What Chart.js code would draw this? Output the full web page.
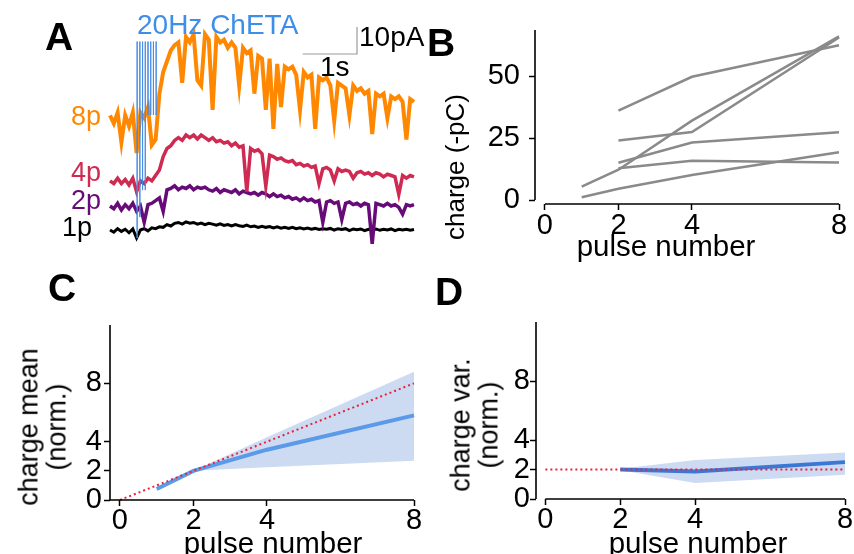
<!DOCTYPE html>
<html>
<head>
<meta charset="utf-8">
<script src="https://cdn.jsdelivr.net/npm/chart.js@4.4.1/dist/chart.umd.min.js"></script>
<style>
  body { margin: 0; background: #fff; }
  #fig { position: relative; width: 854px; height: 554px; overflow: hidden; font-family: 'Liberation Sans', Arial, sans-serif; }
  canvas { position: absolute; }
  .t { position: absolute; white-space: nowrap; color: #000; }
  .letter { font-weight: bold; }
  .rot { transform: translate(-50%, -50%) rotate(-90deg); text-align: center; }
</style>
</head>
<body>
<div id="fig">
  <canvas id="panelA" width="430" height="260" style="left:0;top:0"></canvas>
  <canvas id="panelB" width="424" height="270" style="left:430px;top:0"></canvas>
  <canvas id="panelC" width="430" height="284" style="left:0;top:270px"></canvas>
  <canvas id="panelD" width="424" height="284" style="left:430px;top:270px"></canvas>
</div>
<script>
'use strict';

//Panel A - example currents (pA above baseline), one sample every traceDt seconds
var traceDt = 0.07;
var trace8p = [1, -2, 2, -9, 1, -3, 2, -13, 2, 0,
  4, -10, -8, 9, 17, 21, 25, 27, 28, 13,
  30, 28, 31, 14, 12, 31, 29, 3, 30, 28,
  29, 26, 28, 26, 12, 26, 24, 25, 9, 23,
  22, 3, 22, -4, 20, 4, 19, 18, 19, 16,
  3, 17, 15, 16, -4, 15, 14, 15, 12, -1,
  13, 12, 11, 1, 12, 10, 11, 9, 10, -6,
  9, 8, 9, 0, 8, 7, 8, 6, -8, 7, 6];
var trace4p = [0, -1, 1, -1, 0.5, -1.5, 1, -4, 0, -1,
  1, 0, 2, 4, 9, 12, 13, 15, 16, 15,
  17, 16, 17, 15.5, 17, 16, 15, 16, 14.5, 15,
  14, 14.5, 13, 14, 12.5, 13, -4, 12, 11, 11.5,
  10, -2, 9.5, 9, 8, 8.5, 7.5, 7, 7.5, 6,
  6.5, 5.5, 6, 5, 5.5, -1, 4.5, 5, 4, 0,
  4.5, 3.5, 4, 3.5, 1, 3, 3.5, 2.5, 3, 2,
  3, 2.5, 1.5, 2.5, 2, 1.5, -5, 2, 1, 2, 1.5];
var trace2p = [0, -1, 1, -1.5, 0.5, -1, 1, -2, 0, -6,
  0.5, 1, 2, 3, -2, 6, 6.5, 7.5, 6, 7,
  6.5, 7.5, 6, 7, 6.5, 7, 6, 5.5, 6.5, 5,
  6, 5.5, 5, 6, 4.5, 5.5, 5, 4.5, 5, 4,
  5, 4.5, 3.5, 4.5, 3.5, 4, 3, 3.5, 2.5, 3,
  2, 3, 2, 2.5, 1.5, 2, -6, 1.5, 2, 1,
  1.5, -5, 1, 1.5, 0.5, 1, 0, 1, 0.5, -14,
  1, 0.5, 0, 1, 0, 0.5, -0.5, -3, 0.5, 0, 0.5];
var trace1p = [0, -0.8, 0.5, -0.5, 0.3, -1, 0.4, -3, 0, 0.5,
  -0.3, 0.8, 0.5, 1.2, 1, 2, 1.5, 2.5, 2.8, 2.2,
  3, 2.5, 2.8, 2.2, 2.6, 2, 2.5, 2.2, 1.8, 2.3,
  1.7, 2, 1.5, 2, 1.6, 1.3, 1.8, 1.2, 1.5, 1,
  1.4, 1, 1.3, 0.8, 1.2, 0.7, 1, 0.6, 1, 0.5,
  0.8, 0.4, 0.7, 0.3, 0.6, 0.2, 0.5, 0.3, 0.6, 0,
  0.5, 0.2, 0.5, -0.2, 0.4, 0.1, 0.4, -0.2, 0.3, 0,
  0.4, -0.1, 0.3, 0, 0.4, -0.2, 0.3, 0, 0.3, -0.1, 0.2];
var traceNames = ['8p', '4p', '2p', '1p'];
var traceColors = ['#ff8800', '#cf2a52', '#660b77', '#000000'];
var traceWidths = [4, 3.5, 3.5, 3];
var traceOffsets = [52.6, 29.3, 20, 11.1]; //stacking of the traces, pA
//20Hz light pulses (s) and how far down each blue line reaches (pA)
var stimTimes = [0.5, 0.55, 0.6, 0.65, 0.7, 0.75, 0.8, 0.85];
var stimTop = 80.9;
var stimBottoms = [8.1, 15.9, 25.9, 25.9, 53.7, 53.7, 53.7, 53.7];
var scaleBarTime = [3.55, 4.55];      //1 s
var scaleBarCurrent = [76.3, 86.3];   //10 pA

//Panel B - charge per cell
var pulseNumbers = [1, 2, 4, 8];
var cell1 = [null, 36, 49.7, 62.4];
var cell2 = [null, 24, 27.4, 65.5];
var cell3 = [null, 15, 23.2, 27.3];
var cell4 = [null, 12.8, 15.8, 15.1];
var cell5 = [1.1, 4.5, 10.1, 19.3];
var cell6 = [5.4, 12.2, 32, 66];
var chargeTicks = [0, 25, 50];

//Panel C - normalised mean
var meanNorm = [0.75, 2, 3.45, 5.8];
var bandPulses = [2, 4, 8];
var meanUpper = [2, 4.3, 8.8];
var meanLower = [2, 2.25, 2.7];
var linearPulses = [0, 8];
var linearExpect = [0, 8];

//Panel D - normalised variance
var varNorm = [2, 1.87, 2.5];
var varUpper = [2.05, 2.65, 3.15];
var varLower = [1.95, 1.08, 1.65];
var flatExpect = [2, 2];

var pulseTicks = [0, 2, 4, 8];
var normTicks = [0, 2, 4, 8];

Chart.defaults.font.family = "'Liberation Sans', Arial, sans-serif";
Chart.defaults.font.size = 29;
Chart.defaults.color = '#000';

function points(xs, ys) {
	var out = [];
	xs.forEach(function (x, i) {
		if (ys[i] !== null) out.push({ x: x, y: ys[i] });
	});
	return out;
}

function line(data, color, width, extra) {
	var ds = { data: data, borderColor: color, borderWidth: width, pointRadius: 0, tension: 0, fill: false, clip: false };
	for (var k in extra) ds[k] = extra[k];
	return ds;
}

//axis with fixed ticks, tick marks only (spines are drawn by the plugin below)
function axis(min, max, ticks, pad, size, isX) {
	return {
		type: 'linear', min: min, max: max,
		afterBuildTicks: function (scale) {
			scale.ticks = ticks.map(function (v) { return { value: v }; });
		},
		afterFit: function (scale) {
			if (isX) scale.height = size; else scale.width = size;
		},
		grid: { display: true, drawOnChartArea: false, drawTicks: true, tickLength: 6, tickWidth: 1.5, tickColor: '#000' },
		border: { display: false },
		ticks: { padding: pad, autoSkip: false, maxRotation: 0, font: { size: 29, lineHeight: 1 } }
	};
}

var spinePlugin = {
	id: 'spines',
	afterDraw: function (chart, args, opts) {
		var ctx = chart.ctx, area = chart.chartArea;
		var xs = chart.scales.x, ys = chart.scales.y;
		ctx.save();
		ctx.strokeStyle = '#000';
		ctx.lineWidth = 1.6;
		ctx.beginPath();
		ctx.moveTo(area.left, area.top);
		ctx.lineTo(area.left, ys.getPixelForValue(opts.yFrom));
		ctx.moveTo(xs.getPixelForValue(opts.xFrom), area.bottom);
		ctx.lineTo(area.right, area.bottom);
		ctx.stroke();
		ctx.restore();
	}
};

function baseOptions(padding, scales, spines) {
	return {
		responsive: false, animation: false, devicePixelRatio: 1,
		layout: { padding: padding },
		plugins: { legend: { display: false }, tooltip: { enabled: false }, spines: spines },
		scales: scales
	};
}

//Panel A
var traceSets = [trace8p, trace4p, trace2p, trace1p];
var aData = [];
stimTimes.forEach(function (t, i) {
	aData.push(line([{ x: t, y: stimTop }, { x: t, y: stimBottoms[i] }], 'rgba(70,140,228,0.75)', 1));
});
aData.push(line([{ x: scaleBarTime[0], y: scaleBarCurrent[0] }, { x: scaleBarTime[1], y: scaleBarCurrent[0] },
	{ x: scaleBarTime[1], y: scaleBarCurrent[1] }], '#9a9a9a', 1.2));
traceSets.forEach(function (tr, k) {
	var pts = tr.map(function (v, i) { return { x: i * traceDt, y: v + traceOffsets[k] }; });
	aData.push(line(pts, traceColors[k], traceWidths[k], { borderJoinStyle: 'miter' }));
});
new Chart(document.getElementById('panelA'), {
	type: 'line',
	data: { datasets: aData },
	options: baseOptions({ left: 110, right: 16, top: 0, bottom: 0 }, {
		x: { type: 'linear', display: false, min: 0, max: 5.6 },
		y: { type: 'linear', display: false, min: 0, max: 96.3 }
	}, {})
});

//Panel B
var cells = [cell1, cell2, cell3, cell4, cell5, cell6];
new Chart(document.getElementById('panelB'), {
	type: 'line',
	data: { datasets: cells.map(function (c) { return line(points(pulseNumbers, c), '#8a8a8a', 2.5); }) },
	options: baseOptions({ left: 0, right: 15, top: 30, bottom: 0 }, {
		x: axis(-0.27, 8, pulseTicks, 1, 66, true),
		y: axis(-1.61, 68.55, chargeTicks, 9, 105, false)
	}, { xFrom: 0, yFrom: 0 }),
	plugins: [spinePlugin]
});

//Panel C
new Chart(document.getElementById('panelC'), {
	type: 'line',
	data: { datasets: [
		line(points(linearPulses, linearExpect), '#e8213e', 2, { borderDash: [2, 3] }),
		line(points(pulseNumbers, meanNorm), '#5b9ae8', 4),
		line(points(bandPulses, meanUpper), 'rgba(0,0,0,0)', 0, { fill: '+1', backgroundColor: 'rgba(120,160,222,0.38)' }),
		line(points(bandPulses, meanLower), 'rgba(0,0,0,0)', 0)
	] },
	options: baseOptions({ left: 0, right: 16, top: 55, bottom: 0 }, {
		x: axis(-0.27, 8, pulseTicks, 0, 54, true),
		y: axis(0, 12, normTicks, 2, 110, false)
	}, { xFrom: -0.27, yFrom: 0 }),
	plugins: [spinePlugin]
});

//Panel D
new Chart(document.getElementById('panelD'), {
	type: 'line',
	data: { datasets: [
		line(points(linearPulses, flatExpect), '#e8213e', 2, { borderDash: [2, 3] }),
		line(points(bandPulses, varNorm), '#3b78d6', 4),
		line(points(bandPulses, varUpper), 'rgba(0,0,0,0)', 0, { fill: '+1', backgroundColor: 'rgba(120,160,222,0.38)' }),
		line(points(bandPulses, varLower), 'rgba(0,0,0,0)', 0)
	] },
	options: baseOptions({ left: 0, right: 9, top: 52, bottom: 0 }, {
		x: axis(-0.25, 8, pulseTicks, 0, 55, true),
		y: axis(0, 12, normTicks, 0, 106, false)
	}, { xFrom: 0, yFrom: 0 }),
	plugins: [spinePlugin]
});

//Text: panel letters, labels and axis titles
var fig = document.getElementById('fig');
function addText(html, x, baseline, opts) {
	opts = opts || {};
	var size = opts.size || 28;
	var el = document.createElement('div');
	el.className = 't' + (opts.cls ? ' ' + opts.cls : '');
	el.innerHTML = html;
	el.style.fontSize = size + 'px';
	el.style.lineHeight = size + 'px';
	el.style.left = x + 'px';
	el.style.top = (baseline - 0.8465 * size) + 'px';
	if (opts.color) el.style.color = opts.color;
	if (opts.center) el.style.transform = 'translateX(-50%)';
	fig.appendChild(el);
}
function addRotated(html, cx, cy, size) {
	var el = document.createElement('div');
	el.className = 't rot';
	el.innerHTML = html;
	el.style.fontSize = size + 'px';
	el.style.lineHeight = '27.5px';
	el.style.left = cx + 'px';
	el.style.top = cy + 'px';
	fig.appendChild(el);
}

addText('A', 45, 50, { cls: 'letter', size: 39 });
addText('B', 427, 56, { cls: 'letter', size: 39 });
addText('C', 48, 301, { cls: 'letter', size: 39 });
addText('D', 435, 305, { cls: 'letter', size: 39 });

addText('20Hz ChETA', 137, 35, { color: '#3d8ee8' });
addText('10pA', 359, 46.7);
addText('1s', 320, 76.7);
var labelLeft = [71, 71, 71, 62];
var labelBase = [126, 182, 210, 237];
traceNames.forEach(function (n, k) {
	addText(n, labelLeft[k], labelBase[k], { color: traceColors[k], size: 27 });
});

addText('pulse number', 666, 255.5, { center: true, size: 29.5 });
addText('pulse number', 273, 553, { center: true, size: 29.5 });
addText('pulse number', 698, 553, { center: true, size: 29.5 });
addRotated('charge (-pC)', 456, 167, 26);
addRotated('charge mean<br>(norm.)', 43, 427, 27);
addRotated('charge var.<br>(norm.)', 475, 425, 27);
</script>
</body>
</html>
